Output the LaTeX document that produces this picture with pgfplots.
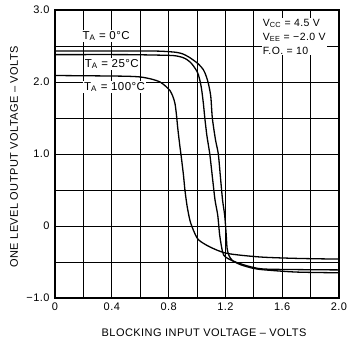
\documentclass[border=0pt]{standalone}
\usepackage{pgfplots}
\pgfplotsset{compat=1.18}
\usepackage{fontspec}
\setmainfont{Liberation Sans}[LetterSpace=4]
\begin{document}
\begin{tikzpicture}
\begin{axis}[
  scale only axis, width=284pt, height=288pt,
  xmin=0, xmax=2.0, ymin=-1.0, ymax=3.0,
  xtick={0,0.4,0.8,1.2,1.6,2.0},
  xticklabels={0,0.4,0.8,1.2,1.6,2.0},
  ytick={-1,0,1,2,3},
  yticklabels={−1.0,0,1.0,2.0,3.0},
  minor x tick num=1, minor y tick num=1,
  grid=both,
  major grid style={line width=0.6pt, black},
  minor grid style={line width=0.6pt, black},
  major tick length=0pt, minor tick length=0pt,
  axis line style={line width=1.3pt},
  tick label style={font=\fontsize{11}{13}\selectfont},
  yticklabel style={xshift=-2pt},
  xticklabel style={yshift=-1pt},
  xlabel={BLOCKING INPUT VOLTAGE -- VOLTS},
  ylabel={ONE LEVEL OUTPUT VOLTAGE -- VOLTS},
  xlabel style={font=\fontsize{11}{13}\selectfont, at={(axis description cs:0.525,-0.1215)}, anchor=center},
  ylabel style={font=\fontsize{11}{13}\selectfont, at={(axis description cs:-0.144,0.49)}, anchor=center, rotate=0},
]
\coordinate (A) at (rel axis cs:0,0);
\coordinate (B) at (rel axis cs:1,1);
% 0 C
\addplot[black, line width=1.3pt, smooth, tension=0.45] coordinates {
(0,2.43) (0.4,2.43) (0.7,2.43) (0.81,2.42) (0.86,2.41) (0.90,2.39) (0.94,2.35)
(0.97,2.31) (1.01,2.25) (1.045,2.17) (1.065,2.08) (1.08,1.98) (1.097,1.80)
(1.108,1.50) (1.13,1.20) (1.15,1.00) (1.165,0.68) (1.18,0.36) (1.195,0.15)
(1.205,-0.10) (1.212,-0.31) (1.225,-0.41) (1.25,-0.48) (1.31,-0.54) (1.40,-0.59)
(1.48,-0.61) (1.7,-0.64) (2.0,-0.65)};
% 25 C
\addplot[black, line width=1.3pt, smooth, tension=0.45] coordinates {
(0,2.38) (0.5,2.38) (0.8,2.37) (0.86,2.36) (0.90,2.34) (0.93,2.31) (0.96,2.26)
(0.99,2.18) (1.01,2.10) (1.03,1.93) (1.045,1.70) (1.055,1.50) (1.07,1.25)
(1.09,1.00) (1.11,0.65) (1.127,0.36) (1.146,0.15) (1.16,-0.13) (1.18,-0.36)
(1.20,-0.43) (1.27,-0.50) (1.385,-0.57) (1.5,-0.60) (2.0,-0.61)};
% 100 C
\addplot[black, line width=1.3pt, smooth, tension=0.45] coordinates {
(0,2.09) (0.3,2.085) (0.5,2.08) (0.6,2.07) (0.68,2.04) (0.74,2.00) (0.78,1.94)
(0.81,1.88) (0.83,1.80) (0.845,1.70) (0.855,1.55) (0.865,1.35) (0.88,1.10)
(0.89,0.95) (0.905,0.70) (0.915,0.50) (0.93,0.28) (0.95,0.08) (0.975,-0.06)
(1.01,-0.19) (1.09,-0.29) (1.21,-0.38) (1.44,-0.43) (1.7,-0.45) (2.0,-0.46)};
\node[fill=white, inner sep=1pt, font=\fontsize{11.5}{13}\selectfont] at (axis cs:0.36,2.64) {T\textsubscript{A} = 0°C};
\node[fill=white, inner sep=1pt, font=\fontsize{11.5}{13}\selectfont] at (axis cs:0.40,2.25) {T\textsubscript{A} = 25°C};
\node[fill=white, inner sep=1pt, font=\fontsize{11.5}{13}\selectfont] at (axis cs:0.42,1.93) {T\textsubscript{A} = 100°C};
\node[fill=white, inner sep=1pt, anchor=north west, align=left, font=\fontsize{10.5}{14}\selectfont] at (axis cs:1.455,2.89) {V\textsubscript{CC} = 4.5 V\\V\textsubscript{EE} = −2.0 V\\F.O. = 10};
\end{axis}
\pgfresetboundingbox
\path[use as bounding box] ([shift={(-55pt,-48pt)}]A) rectangle ([shift={(18pt,10pt)}]B);
\end{tikzpicture}
\end{document}
